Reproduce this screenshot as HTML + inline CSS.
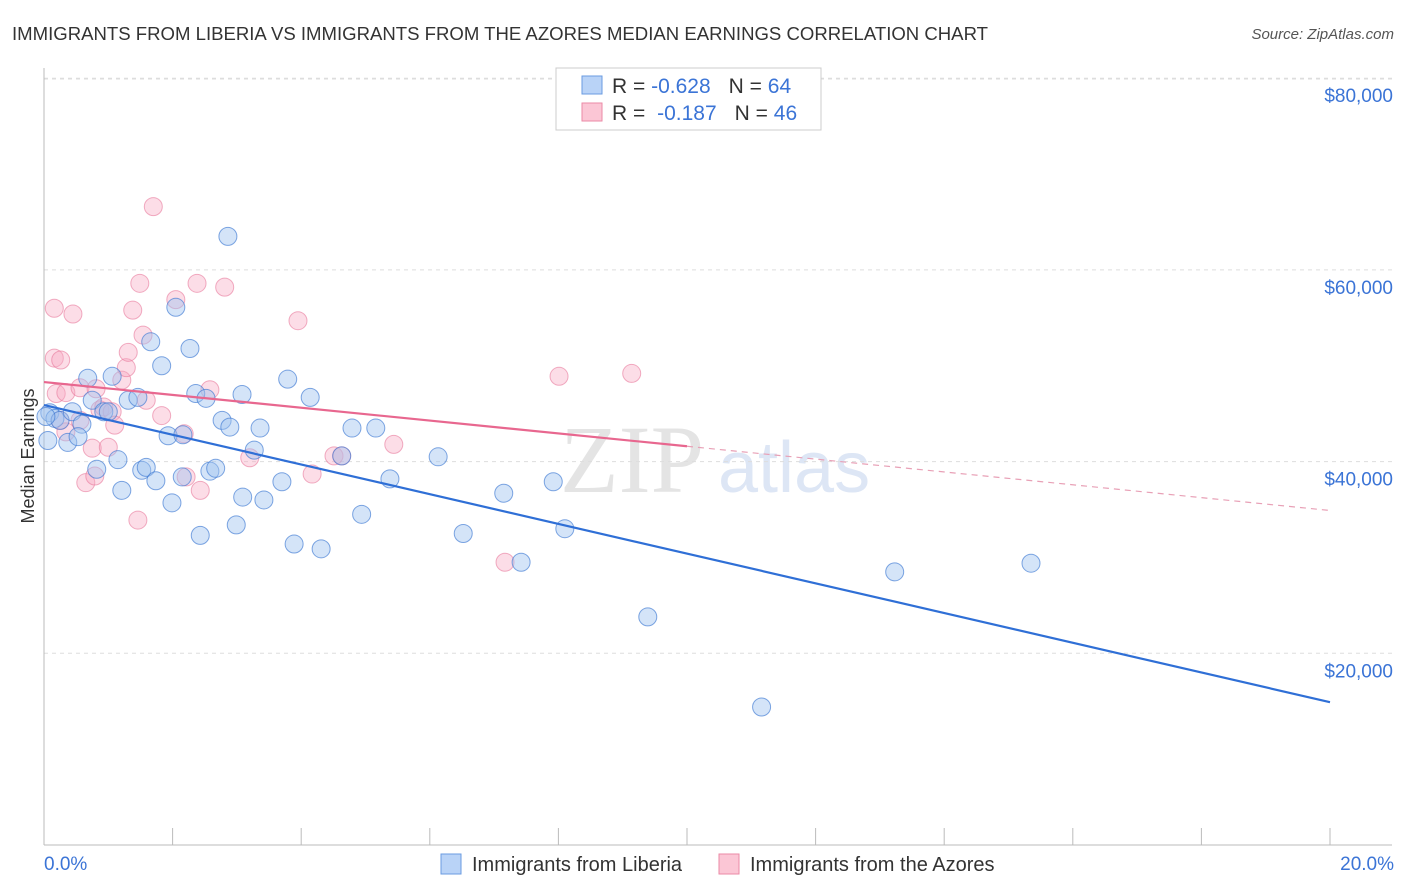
<!DOCTYPE html>
<html><head><meta charset="utf-8">
<style>
body{margin:0;background:#fff;font-family:"Liberation Sans",sans-serif;}
#wrap{position:relative;width:1406px;height:892px;overflow:hidden;}
</style></head>
<body>
<div id="wrap">
<svg id="chart" width="1406" height="892">
<text x="12" y="40" font-size="18" fill="#333" textLength="976" lengthAdjust="spacingAndGlyphs">IMMIGRANTS FROM LIBERIA VS IMMIGRANTS FROM THE AZORES MEDIAN EARNINGS CORRELATION CHART</text>
<text x="1394" y="39" font-size="15" fill="#555" font-style="italic" text-anchor="end">Source: ZipAtlas.com</text>
<text x="560" y="492" font-size="96" fill="#e4e4e4" font-family="Liberation Serif,serif">ZIP</text>
<text x="718" y="492" font-size="72" fill="#dde6f5">atlas</text>
<text transform="translate(34,456) rotate(-90)" font-size="18" fill="#333" text-anchor="middle">Median Earnings</text>
<g id="grid"></g><g id="axes"></g><g id="pts"></g><g id="trends"></g>
<g>
<rect x="556" y="68" width="265" height="62" fill="#fff" stroke="#ccc"/>
<rect x="582" y="76" width="20" height="18" fill="#b9d3f7" stroke="#6a9be0"/>
<rect x="582" y="103" width="20" height="18" fill="#fbc6d5" stroke="#eb8aa6"/>
<text x="612" y="93" font-size="21" fill="#333">R = <tspan fill="#3b74d6">-0.628</tspan><tspan dx="18">N = </tspan><tspan fill="#3b74d6">64</tspan></text>
<text x="612" y="120" font-size="21" fill="#333">R = <tspan dx="6" fill="#3b74d6">-0.187</tspan><tspan dx="18">N = </tspan><tspan fill="#3b74d6">46</tspan></text>
</g>
<g>
<rect x="441" y="854" width="20" height="20" fill="#b9d3f7" stroke="#6a9be0"/>
<text x="472" y="871" font-size="20" fill="#333">Immigrants from Liberia</text>
<rect x="719" y="854" width="20" height="20" fill="#fbc6d5" stroke="#eb8aa6"/>
<text x="750" y="871" font-size="20" fill="#333">Immigrants from the Azores</text>
</g>
<text x="44" y="870" font-size="19" fill="#3b74d6">0.0%</text>
<text x="1394" y="870" font-size="19" fill="#3b74d6" text-anchor="end">20.0%</text>
</svg>
</div>
<script>
const yTicks=[20000,40000,60000,80000];
const yTickLabels=["$20,000","$40,000","$60,000","$80,000"];
const liberiaX=[0.09,0.17,0.25,0.44,0.37,0.59,0.53,0.68,0.75,0.82,0.93,1.00,1.06,1.15,1.21,1.31,1.46,1.52,1.59,1.66,1.74,1.83,1.93,1.99,2.05,2.16,2.15,2.27,2.36,2.43,2.52,2.58,2.67,2.77,2.86,2.89,2.99,3.08,3.09,3.27,3.36,3.42,3.70,3.79,3.89,4.14,4.31,4.63,4.79,4.94,5.16,5.38,6.13,6.52,7.15,7.42,7.92,8.10,9.39,11.16,13.23,15.35,0.03,0.06];
const liberiaY=[45.1,44.5,44.3,45.2,42.0,43.9,42.6,48.7,46.4,39.2,45.2,45.2,48.9,40.2,37.0,46.4,46.7,39.1,39.4,52.5,38.0,50.0,42.7,35.7,56.1,42.8,38.4,51.8,47.1,32.3,46.6,39.0,39.3,44.3,63.5,43.6,33.4,47.0,36.3,41.2,43.5,36.0,37.9,48.6,31.4,46.7,30.9,40.6,43.5,34.5,43.5,38.2,40.5,32.5,36.7,29.5,37.9,33.0,23.8,14.4,28.5,29.4,44.7,42.2];
const azoresX=[0.16,0.45,0.16,0.26,0.19,0.34,0.56,0.65,0.75,0.81,0.87,0.93,1.00,1.06,1.10,1.21,1.28,1.31,1.38,1.46,1.49,1.54,1.59,1.70,1.83,2.05,2.18,2.21,2.38,2.43,2.58,2.81,3.20,3.95,4.17,4.51,4.63,5.44,7.17,8.01,9.14,0.25,0.79,0.56,0.34];
const azoresY=[56.0,55.4,50.8,50.6,47.1,47.2,47.7,37.8,41.4,47.6,45.4,45.7,41.5,45.2,43.8,48.5,49.8,51.4,55.8,33.9,58.6,53.2,46.4,66.6,44.8,56.9,42.9,38.4,58.6,37.0,47.5,58.2,40.4,54.7,38.7,40.6,40.6,41.8,29.5,48.9,49.2,44.3,38.5,44.3,43.1];
const liberiaTrend=[45.9,14.9];
const azoresTrend=[48.3,34.9];
const azoresSolidEnd=10;

const NS="http://www.w3.org/2000/svg";
const X=v=>44+v/20*1286;
const Y=v=>845-v/20000*191.7;
function mk(tag,attrs,parent){const e=document.createElementNS(NS,tag);for(const k in attrs)e.setAttribute(k,attrs[k]);document.getElementById(parent).appendChild(e);return e;}
yTicks.forEach((t,i)=>{
  const l=mk('line',{x1:44,x2:1392,y1:Y(t),y2:Y(t),stroke:'#ddd','stroke-dasharray':'4,4'},'grid');
  
  
  const tx=mk('text',{x:1393,y:Y(t)+24,'font-size':19,fill:'#3b74d6','text-anchor':'end'},'grid');
  tx.textContent=yTickLabels[i];
  
  
});
const gl=mk('line',{x1:44,x2:1392,y1:79,y2:79,stroke:'#ddd','stroke-dasharray':'4,4'},'grid');


const ya=mk('line',{x1:44,x2:44,y1:68,y2:845,stroke:'#bbb'},'axes');


const xa=mk('line',{x1:44,x2:1392,y1:845,y2:845,stroke:'#bbb'},'axes');


for(let i=0;i<=10;i++){
  const tk=mk('line',{x1:X(i*2),x2:X(i*2),y1:828,y2:845,stroke:'#bbb'},'axes');
  
  
}
azoresX.forEach((x,i)=>{
  const c=mk('circle',{cx:X(x),cy:Y(azoresY[i]*1000),r:9,fill:'rgba(248,170,195,0.4)',stroke:'rgba(232,120,155,0.6)','stroke-width':1},'pts');
  
  
});
liberiaX.forEach((x,i)=>{
  const c=mk('circle',{cx:X(x),cy:Y(liberiaY[i]*1000),r:9,fill:'rgba(160,195,240,0.45)',stroke:'rgba(60,120,210,0.65)','stroke-width':1},'pts');
  
  
});
const bt=mk('line',{x1:X(0),y1:Y(liberiaTrend[0]*1000),x2:X(20),y2:Y(liberiaTrend[1]*1000),stroke:'#2f6fd6','stroke-width':2.2},'trends');


const pm=azoresTrend[0]+(azoresTrend[1]-azoresTrend[0])*azoresSolidEnd/20;
const pt=mk('line',{x1:X(0),y1:Y(azoresTrend[0]*1000),x2:X(azoresSolidEnd),y2:Y(pm*1000),stroke:'#e8678f','stroke-width':2.2},'trends');


const pd=mk('line',{x1:X(azoresSolidEnd),y1:Y(pm*1000),x2:X(20),y2:Y(azoresTrend[1]*1000),stroke:'#e8a0b6','stroke-width':1.2,'stroke-dasharray':'6,5'},'trends');


</script>
</body></html>
